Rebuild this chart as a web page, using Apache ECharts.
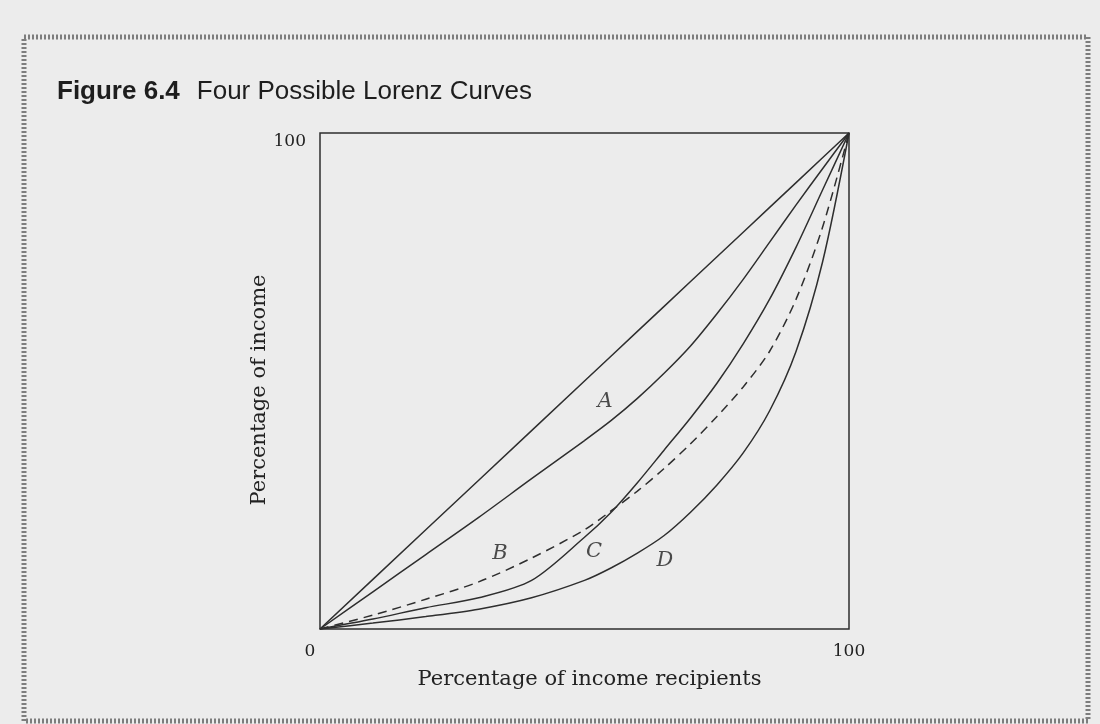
<!DOCTYPE html>
<html>
<head>
<meta charset="utf-8">
<script src="https://cdn.jsdelivr.net/npm/echarts@6/dist/echarts.min.js"></script>
<style>
  html, body { margin: 0; padding: 0; background: #ececec; }
  #chart { width: 1100px; height: 724px; }
</style>
</head>
<body>
<div id="chart"></div>
<script>
// percentage of income recipients (x) for every curve
const recipients = [0, 10, 20, 30, 40, 50, 55, 60, 65, 70, 75, 80, 85, 90, 95, 100];

// percentage of income (y)
const equality = [0, 10, 20, 30, 40, 50, 55, 60, 65, 70, 75, 80, 85, 90, 95, 100];
const curveA = [0, 7.5, 15, 22.5, 30.3, 38, 42, 46.5, 51.5, 57, 63.5, 70.5, 78, 85.5, 92.8, 100];
const curveB = [0, 2.8, 6, 9.5, 14.3, 20, 23.8, 27.8, 32.3, 37.3, 42.8, 48.8, 56, 66.5, 81, 100];
const curveC = [0, 2, 4.3, 6.3, 9.8, 18.5, 23.5, 29.5, 36, 42.5, 49.5, 57.5, 66.5, 77, 88.5, 100];
const curveD = [0, 1.2, 2.5, 4, 6.3, 9.8, 12.3, 15.3, 18.8, 23.5, 29, 35.5, 44, 56, 74, 100];

// curve letters and where they sit
const labelNames = ["A", "B", "C", "D"];
const labelX = [53.9, 34, 51.8, 65.2];
const labelY = [45.8, 15.2, 15.6, 13.8];

const ink = "#2e2e2e";
const serif = "DejaVu Serif, Liberation Serif, serif";
const sans = "Liberation Sans, Arial, Helvetica, sans-serif";

const pairs = (ys) => recipients.map((x, i) => [x, ys[i]]);

function curve(ys, dashed, smooth) {
  return {
    type: "line",
    data: pairs(ys),
    smooth: smooth,
    symbol: "none",
    silent: true,
    lineStyle: {
      color: ink,
      width: 1.5,
      type: dashed ? [9, 6] : "solid",
    },
  };
}

var myChart = echarts.init(document.getElementById("chart"));

let option = {
  backgroundColor: "#ececec",
  animation: false,
  title: {
    left: 57,
    top: 79,
    padding: 0,
    text: "{b|Figure 6.4}{n|Four Possible Lorenz Curves}",
    textStyle: {
      rich: {
        b: {
          fontFamily: sans,
          fontWeight: "bold",
          fontSize: 26,
          color: "#1e1e1e",
        },
        n: {
          fontFamily: sans,
          fontWeight: "normal",
          fontSize: 26,
          color: "#1e1e1e",
          padding: [0, 0, 0, 17],
        },
      },
    },
  },
  graphic: [
    {
      // hatched frame round the figure
      type: "rect",
      shape: { x: 24, y: 37, width: 1064, height: 684 },
      style: {
        fill: "transparent",
        stroke: "#7d7d7d",
        lineWidth: 5,
        lineDash: [2, 2],
      },
      z: 0,
    },
  ],
  grid: {
    left: 320,
    right: 251,
    top: 133,
    bottom: 95,
    show: true,
    borderColor: ink,
    borderWidth: 1.5,
    backgroundColor: "transparent",
  },
  xAxis: {
    type: "value",
    min: 0,
    max: 100,
    interval: 100,
    name: "Percentage of income recipients",
    nameLocation: "middle",
    nameGap: 40,
    nameTextStyle: { fontFamily: serif, fontSize: 21, color: "#222", padding: [0, 0, 0, 10] },
    axisLine: { show: false },
    axisTick: { show: false },
    splitLine: { show: false },
    axisLabel: {
      margin: 14,
      fontFamily: serif,
      fontSize: 17,
      color: "#222",
      formatter: (v) => (v === 0 ? "{o|0}" : String(v)),
      rich: {
        o: { fontFamily: serif, fontSize: 17, color: "#222", padding: [0, 20, 0, 0] },
      },
    },
  },
  yAxis: {
    type: "value",
    min: 0,
    max: 100,
    interval: 100,
    name: "Percentage of income",
    nameLocation: "middle",
    nameGap: 46,
    nameTextStyle: { fontFamily: serif, fontSize: 21, color: "#222", padding: [0, 18, 0, 0] },
    axisLine: { show: false },
    axisTick: { show: false },
    splitLine: { show: false },
    axisLabel: {
      margin: 14,
      fontFamily: serif,
      fontSize: 17,
      color: "#222",
      verticalAlign: "top",
      formatter: (v) => (v === 100 ? "100" : ""),
    },
  },
  series: [
    curve(equality, false, false),
    curve(curveA, false, 0.3),
    curve(curveB, true, 0.3),
    curve(curveC, false, 0.3),
    curve(curveD, false, 0.3),
    {
      type: "scatter",
      symbolSize: 0,
      silent: true,
      data: labelNames.map((n, i) => ({ name: n, value: [labelX[i], labelY[i]] })),
      label: {
        show: true,
        position: "inside",
        formatter: "{b}",
        fontFamily: serif,
        fontStyle: "italic",
        fontSize: 21,
        color: "#222",
      },
    },
  ],
};

myChart.setOption(option);
</script>
</body>
</html>
